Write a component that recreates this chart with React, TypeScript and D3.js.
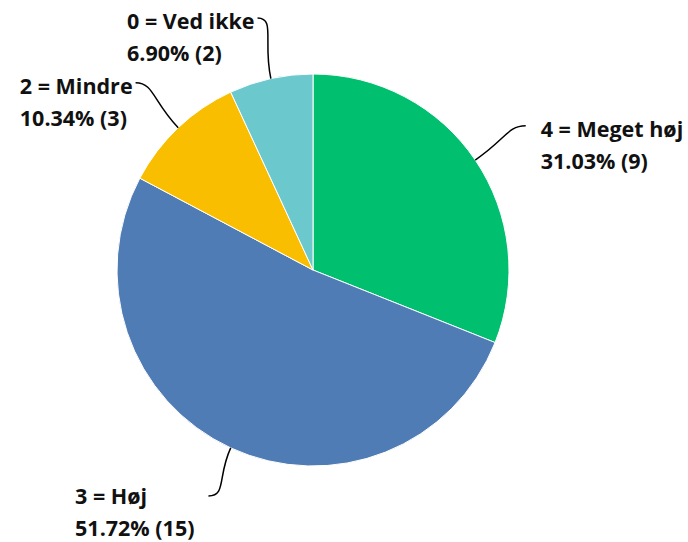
import React, { useMemo } from "react";
import * as d3 from "d3";

const categories = ["4 = Meget høj", "3 = Høj", "2 = Mindre", "0 = Ved ikke"];
const counts = [9, 15, 3, 2];
const percentLabels = ["31.03%", "51.72%", "10.34%", "6.90%"];
const colors = ["#00BF6F", "#507CB6", "#F9BE00", "#6BC8CD"];
// layout nudges for label blocks
const labelNudgeX = [0, -11, 0, 0];
const labelNudgeY = [0, -3, 0, 0];
const leaderExtra = [61, 53, 62, 62];

const W = 688;
const H = 542;
const cx = 313;
const cy = 270;
const R = 196;
const FONT = "'Open Sans', 'Noto Sans', sans-serif";
const FS = 21.5;
const FW = 700;
const LH = 32;

function measure(text: string): number {
  if (typeof document === "undefined") return text.length * 11;
  const c = document.createElement("canvas");
  const ctx = c.getContext("2d");
  if (!ctx) return text.length * 11;
  ctx.font = `${FW} ${FS}px 'Open Sans'`;
  return ctx.measureText(text).width;
}

export default function App() {
  const data = categories.map((c, i) => ({ c, v: counts[i], p: percentLabels[i], col: colors[i], i }));
  const pie = d3.pie<any>().sort(null).value((d) => d.v).startAngle(0).endAngle(2 * Math.PI);
  const arcs = pie(data);
  const arc = d3.arc<any>().innerRadius(0).outerRadius(R);
  const polar = (r: number, a: number): [number, number] => [Math.sin(a) * r, -Math.cos(a) * r];

  const widths = useMemo(
    () => data.map((d) => Math.max(measure(d.c), measure(`${d.p} (${d.v})`))),
    []
  );

  return (
    <svg
      width={W}
      height={H}
      style={{ position: "absolute", left: 0, top: 0, background: "#fff" }}
      fontFamily={FONT}
    >
      <g transform={`translate(${cx},${cy})`}>
        {arcs.map((a, k) => (
          <path key={k} d={arc(a) as string} fill={a.data.col} stroke="#fff" strokeWidth={1} />
        ))}
        {arcs.map((a, k) => {
          const mid = (a.startAngle + a.endAngle) / 2;
          const right = Math.sin(mid) >= 0;
          const sign = right ? 1 : -1;
          const ext = leaderExtra[k];
          const p0 = polar(R, mid);
          const p1 = polar(R + ext * 0.6, mid);
          const p3 = polar(R + ext, mid);
          const p2: [number, number] = [p3[0] - sign * 18, p3[1]];
          const path = `M${p0[0]},${p0[1]} C${p1[0]},${p1[1]} ${p2[0]},${p2[1]} ${p3[0]},${p3[1]}`;
          const w = widths[k];
          const tx = right ? p3[0] + 15 : p3[0] - 3 - w + labelNudgeX[k];
          const ty = p3[1] + 11 + labelNudgeY[k];
          return (
            <g key={"l" + k}>
              <path d={path} fill="none" stroke="#000" strokeWidth={1.5} />
              <text x={tx} y={ty} fontSize={FS} fontWeight={FW} fill="#111">
                {a.data.c}
              </text>
              <text x={tx} y={ty + LH} fontSize={FS} fontWeight={FW} fill="#111">
                {`${a.data.p} (${a.data.v})`}
              </text>
            </g>
          );
        })}
      </g>
    </svg>
  );
}
